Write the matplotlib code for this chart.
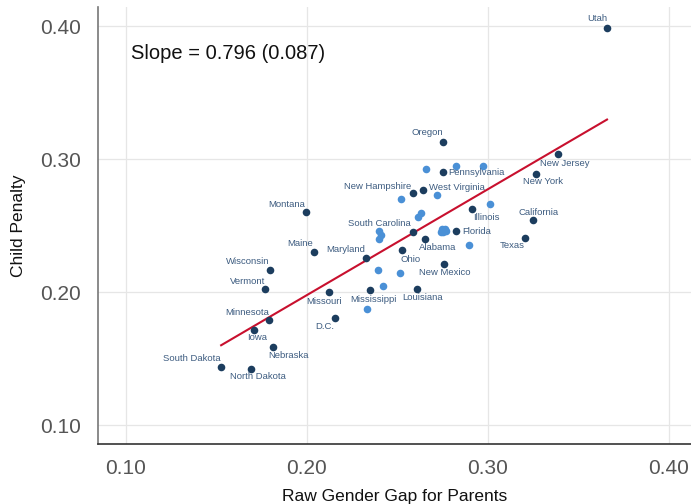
import matplotlib
matplotlib.use("Agg")
import matplotlib.pyplot as plt
import numpy as np

plt.rcParams['font.family'] = ['Liberation Sans', 'DejaVu Sans']

# Labeled states (dark points)
states = ["Utah", "Oregon", "Pennsylvania", "New Jersey", "New York", "New Hampshire",
          "West Virginia", "Montana", "Illinois", "California", "South Carolina", "Florida",
          "Texas", "Alabama", "Maine", "Maryland", "Ohio", "New Mexico", "Wisconsin",
          "Vermont", "Missouri", "Mississippi", "Louisiana", "Minnesota", "D.C.", "Iowa",
          "Nebraska", "South Dakota", "North Dakota"]
gap_labeled = [0.3659, 0.2753, 0.2755, 0.3387, 0.3265, 0.2586,
               0.2644, 0.1996, 0.2914, 0.3249, 0.2586, 0.2823,
               0.3204, 0.2651, 0.2040, 0.2328, 0.2527, 0.2759, 0.1796,
               0.1771, 0.2125, 0.2350, 0.2607, 0.1792, 0.2155, 0.1709,
               0.1814, 0.1527, 0.1694]
penalty_labeled = [0.3987, 0.3132, 0.2902, 0.3038, 0.2892, 0.2745,
                   0.2769, 0.2604, 0.2623, 0.2541, 0.2456, 0.2458,
                   0.2411, 0.2398, 0.2305, 0.2260, 0.2317, 0.2211, 0.2170,
                   0.2025, 0.2001, 0.2014, 0.2024, 0.1789, 0.1807, 0.1719,
                   0.1586, 0.1438, 0.1423]

# Unlabeled states (light points)
gap_other = [0.2657, 0.2823, 0.2973, 0.2521, 0.2718, 0.3013, 0.2629, 0.2615,
             0.2401, 0.2409, 0.2399, 0.2746, 0.2764, 0.2755, 0.2739, 0.2770,
             0.2750, 0.2895, 0.2392, 0.2515, 0.2422, 0.2331]
penalty_other = [0.2927, 0.2952, 0.2947, 0.2701, 0.2729, 0.2666, 0.2598, 0.2568,
                 0.2459, 0.2431, 0.2398, 0.2463, 0.2478, 0.2456, 0.2453, 0.2461,
                 0.2476, 0.2353, 0.2168, 0.2143, 0.2045, 0.1877]

slope = 0.796
slope_se = 0.087
intercept = 0.0386

ticks = [0.10, 0.20, 0.30, 0.40]
tick_labels = ["0.10", "0.20", "0.30", "0.40"]

# label offsets in pixels (dx, dy)
label_offsets = {
    "Utah": (-10, 9), "Oregon": (-16, 9), "Pennsylvania": (33, 0), "New Jersey": (7, -9),
    "New York": (7, -8), "New Hampshire": (-35, 7), "West Virginia": (34, 2),
    "Montana": (-19, 7), "Illinois": (14, -8), "California": (6, 8),
    "South Carolina": (-33, 8), "Florida": (21, 0), "Texas": (-12, -8),
    "Alabama": (13, -8), "Maine": (-14, 8), "Maryland": (-20, 8), "Ohio": (8, -9),
    "New Mexico": (1, -8), "Wisconsin": (-22, 8), "Vermont": (-18, 7),
    "Missouri": (-5, -9), "Mississippi": (3, -9), "Louisiana": (6, -8),
    "Minnesota": (-22, 8), "D.C.": (-10, -9), "Iowa": (3, -8), "Nebraska": (15, -8),
    "South Dakota": (-29, 8), "North Dakota": (7, -8),
}

dark = "#1c3d5e"
light = "#4a90d6"
txtc = "#3d5c80"

fig = plt.figure(figsize=(6.91, 5.04), dpi=100)
ax = fig.add_axes([97.7 / 691, 1 - 444 / 504, 1 - 97.7 / 691, (444 - 6.7) / 504])

ax.set_xlim(0.0845, 0.4123)
ax.set_ylim(0.0859, 0.4147)
ax.set_xticks(ticks)
ax.set_xticklabels(tick_labels)
ax.set_yticks(ticks)
ax.set_yticklabels(tick_labels)
ax.grid(True, color="#e6e6e6", linewidth=0.9)
ax.set_axisbelow(True)
ax.tick_params(length=0, labelsize=15, labelcolor="#555555")
ax.tick_params(axis='y', pad=12)
ax.tick_params(axis='x', pad=11)
for s in ["top", "right"]:
    ax.spines[s].set_visible(False)
ax.spines["left"].set_color("#777777")
ax.spines["bottom"].set_color("#333333")
ax.spines["left"].set_linewidth(1.2)
ax.spines["bottom"].set_linewidth(1.2)

ax.scatter(gap_other, penalty_other, s=30, color=light, zorder=3, linewidths=0)
ax.scatter(gap_labeled, penalty_labeled, s=30, color=dark, zorder=4, linewidths=0)

allx = np.array(gap_labeled + gap_other)
xs = np.array([allx.min(), allx.max()])
ax.plot(xs, intercept + slope * xs, color="#c8102e", linewidth=1.5, zorder=2)

for name, x, y in zip(states, gap_labeled, penalty_labeled):
    dx, dy = label_offsets[name]
    ax.annotate(name, (x, y), xytext=(dx, dy), textcoords="offset pixels",
                ha="center", va="center", fontsize=6.8, color=txtc, zorder=5)

ax.text(0.056, 0.894, f"Slope = {slope:.3f} ({slope_se:.3f})", transform=ax.transAxes,
        fontsize=14.5, color="#111111", ha="left", va="center")

ax.set_xlabel("Raw Gender Gap for Parents", fontsize=12.5, color="#111111", labelpad=8)
ax.set_ylabel("Child Penalty", fontsize=12.5, color="#111111", labelpad=10)

fig.savefig("out.png", dpi=100)
